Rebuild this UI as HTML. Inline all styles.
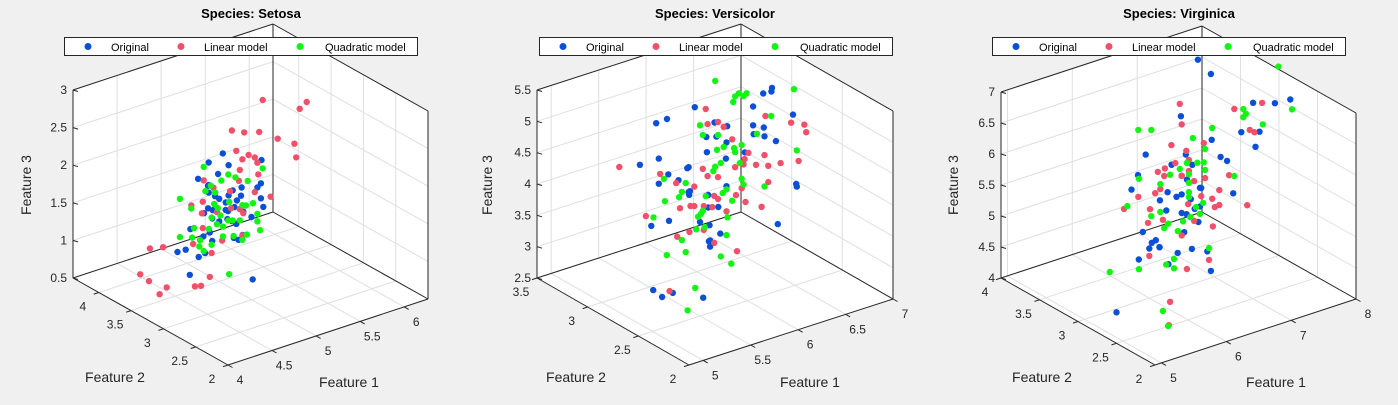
<!DOCTYPE html>
<html><head><meta charset="utf-8"><style>
html,body{margin:0;padding:0;background:#f0f0f0;}
svg{display:block;font-family:"Liberation Sans",Arial,sans-serif;}
</style></head><body>
<svg id="fig" width="1398" height="405" viewBox="0 0 1398 405" xmlns="http://www.w3.org/2000/svg">
<rect x="0" y="0" width="1398" height="405" fill="#f0f0f0"/>
</svg>
<script>
// ---------- Setosa ----------
const setosaOrigF1=[5.1,4.9,4.7,4.6,5.0,5.4,4.6,5.0,4.4,4.9,5.4,4.8,4.8,4.3,5.8,5.7,5.4,5.1,5.7,5.1,5.4,5.1,4.6,5.1,4.8,5.0,5.0,5.2,5.2,4.7,4.8,5.4,5.2,5.5,4.9,5.0,5.5,4.9,4.4,5.1,5.0,4.5,4.4,5.0,5.1,4.8,5.1,4.6,5.3,5.0];
const setosaOrigF2=[3.5,3.0,3.2,3.1,3.6,3.9,3.4,3.4,2.9,3.1,3.7,3.4,3.0,3.0,4.0,4.4,3.9,3.5,3.8,3.8,3.4,3.7,3.6,3.3,3.4,3.0,3.4,3.5,3.4,3.2,3.1,3.4,4.1,4.2,3.1,3.2,3.5,3.6,3.0,3.4,3.5,2.3,3.2,3.5,3.8,3.0,3.8,3.2,3.7,3.3];
const setosaOrigF3=[1.4,1.4,1.3,1.5,1.4,1.7,1.4,1.5,1.4,1.5,1.5,1.6,1.4,1.1,1.2,1.5,1.3,1.4,1.7,1.5,1.7,1.5,1.0,1.7,1.9,1.6,1.6,1.5,1.4,1.6,1.6,1.5,1.5,1.4,1.5,1.2,1.3,1.4,1.3,1.5,1.3,1.3,1.3,1.6,1.9,1.4,1.6,1.4,1.5,1.4];
const setosaLinF1=[5.42,5.84,5.92,5.07,5.21,5.38,5.59,5.78,5.80,5.12,5.26,5.33,5.19,5.36,5.16,5.37,5.15,4.75,5.05,4.86,5.33,5.51,4.74,4.61,4.90,4.73,5.20,5.06,5.16,4.74,4.96,5.19,4.63,4.84,4.14,4.29,4.03,4.13,4.25,4.33,4.65,4.72,4.82];
const setosaLinF3=[2.80,2.52,2.58,2.53,2.45,2.39,2.22,2.08,1.89,2.24,2.13,2.07,2.10,1.99,1.97,1.83,1.83,1.99,1.73,1.85,1.61,1.48,1.71,1.71,1.51,1.56,1.38,1.50,1.45,1.36,1.11,1.09,1.19,0.99,1.32,1.28,1.02,0.89,0.67,0.73,0.62,0.60,0.68];
const setosaQuadF1=[4.75,5.03,5.11,4.95,5.25,5.42,4.83,4.88,4.77,4.48,5.04,4.87,4.61,5.31,5.19,5.23,5.36,4.84,4.94,5.03,5.08,5.16,5.36,4.90,4.97,4.64,4.81,5.39,4.48,4.62,4.71,4.97,5.09,5.24,5.19,4.84,4.70,4.75,5.04,4.91];
const setosaQuadF3=[2.17,1.96,1.89,1.91,1.79,1.89,1.89,1.78,1.84,1.85,1.59,1.63,1.67,1.47,1.49,1.47,1.31,1.46,1.45,1.35,1.33,1.30,1.21,1.35,1.29,1.40,1.32,1.08,1.34,1.28,1.21,1.16,1.12,1.08,1.03,1.10,1.13,1.05,0.63,1.56];
const setosaModelF2=3.4;
// ---------- Versicolor ----------
const versiOrigF1=[7.0,6.4,6.9,5.5,6.5,5.7,6.3,4.9,6.6,5.2,5.0,5.9,6.0,6.1,5.6,6.7,5.6,5.8,6.2,5.6,5.9,6.1,6.3,6.1,6.4,6.6,6.8,6.7,6.0,5.7,5.5,5.5,5.8,6.0,5.4,6.0,6.7,6.3,5.6,5.5,5.5,6.1,5.8,5.0,5.6,5.7,5.7,6.2,5.1,5.7];
const versiOrigF2=[3.2,3.2,3.1,2.3,2.8,2.8,3.3,2.4,2.9,2.7,2.0,3.0,2.2,2.9,2.9,3.1,3.0,2.7,2.2,2.5,3.2,2.8,2.5,2.8,2.9,3.0,2.8,3.0,2.9,2.6,2.4,2.4,2.7,2.7,3.0,3.4,3.1,2.3,3.0,2.5,2.6,3.0,2.6,2.3,2.7,3.0,2.9,2.9,2.5,2.8];
const versiOrigF3=[4.7,4.5,4.9,4.0,4.6,4.5,4.7,3.3,4.6,3.9,3.5,4.2,4.0,4.7,3.6,4.4,4.5,4.1,4.5,3.9,4.8,4.0,4.9,4.7,4.3,4.4,4.8,5.0,4.5,3.5,3.8,3.7,3.9,5.1,4.5,4.5,4.7,4.4,4.1,4.0,4.4,4.6,4.0,3.3,4.2,4.2,4.2,4.3,3.0,4.1];
const versiLinF1=[5.88,6.01,5.90,6.07,6.16,6.51,6.78,6.92,6.94,6.33,6.50,6.29,6.28,6.41,6.54,6.67,6.86,4.97,5.40,5.85,5.90,6.01,6.19,5.57,5.76,6.26,6.54,6.20,5.97,6.01,6.30,6.47,5.61,5.72,5.76,5.86,5.95,6.10,5.25,5.86,5.58,5.71,5.97,6.21,5.50];
const versiLinF3=[5.34,5.07,5.09,4.96,4.72,4.92,4.68,4.58,4.45,4.42,4.30,4.34,4.26,4.19,4.11,4.09,4.03,4.86,4.54,4.40,4.26,4.19,4.26,4.31,4.16,3.89,3.85,3.81,3.91,3.84,3.65,3.49,3.89,3.87,3.85,3.80,3.74,3.60,3.94,3.42,3.45,3.46,3.16,2.91,2.62];
const versiQuadF1=[5.98,6.19,6.23,6.31,6.28,6.17,6.81,6.57,5.82,5.85,6.01,6.07,6.00,6.18,6.19,6.26,6.42,6.84,6.24,6.04,5.98,5.96,5.44,5.67,6.26,6.28,6.50,5.63,5.60,5.45,6.10,6.06,5.88,6.16,5.85,5.83,5.80,6.11,5.33,5.78,5.87,5.63,6.10,5.67,5.47,6.04,6.15,5.77,5.69];
const versiQuadF3=[5.74,5.39,5.42,5.38,5.35,5.31,5.20,4.89,5.11,4.94,4.86,4.64,4.63,4.57,4.50,4.58,4.68,4.21,4.30,4.40,4.37,4.31,4.44,4.26,4.04,3.94,3.80,4.14,4.07,4.08,3.95,3.91,3.95,3.74,3.73,3.69,3.66,3.50,3.88,3.47,3.46,3.37,3.22,3.16,3.21,2.91,2.74,2.54,2.22];
const versiModelF2=2.8;
// ---------- Virginica ----------
const virgOrigF1=[6.3,5.8,7.1,6.3,6.5,7.6,4.9,7.3,6.7,7.2,6.5,6.4,6.8,5.7,5.8,6.4,6.5,7.7,7.7,6.0,6.9,5.6,7.7,6.3,6.7,7.2,6.2,6.1,6.4,7.2,7.4,7.9,6.4,6.3,6.1,7.7,6.3,6.4,6.0,6.9,6.7,6.9,5.8,6.8,6.7,6.7,6.3,6.5,6.2,5.9];
const virgOrigF2=[3.3,2.7,3.0,2.9,3.0,3.0,2.5,2.9,2.5,3.6,3.2,2.7,3.0,2.5,2.8,3.2,3.0,3.8,2.6,2.2,3.2,2.8,2.8,2.7,3.3,3.2,2.8,3.0,2.8,3.0,2.8,3.8,2.8,2.8,2.6,3.0,3.4,3.1,3.0,3.1,3.1,3.1,2.7,3.2,3.3,3.0,2.5,3.0,3.4,3.0];
const virgOrigF3=[6.0,5.1,5.9,5.6,5.8,6.6,4.5,6.3,5.8,6.1,5.1,5.3,5.5,5.0,5.1,5.3,5.5,6.7,6.9,5.0,5.7,4.9,6.7,4.9,5.7,6.0,4.8,4.9,5.6,5.8,6.1,6.4,5.6,5.1,5.6,6.1,5.6,5.5,4.8,5.4,5.6,5.1,5.1,5.9,5.7,5.2,5.0,5.2,5.4,5.1];
const virgLinF1=[6.47,6.50,6.34,6.57,6.84,7.31,7.74,7.55,7.62,6.40,6.61,6.24,6.13,6.23,6.50,6.61,6.69,6.86,7.23,6.17,6.09,5.83,6.80,7.08,6.97,7.01,7.08,7.51,5.61,6.01,6.60,5.98,6.21,6.50,6.69,6.98,6.00,6.92,6.58,6.32,6.30];
const virgLinF3=[6.97,6.63,6.35,6.18,6.21,6.60,6.55,6.18,6.12,6.04,6.02,6.01,5.99,5.89,5.80,5.84,5.65,5.64,5.56,5.70,5.66,5.69,5.37,5.37,5.27,5.12,5.13,4.98,5.57,5.43,5.31,5.22,5.19,4.84,5.01,4.82,4.68,4.30,4.27,3.83,3.46];
const virgQuadF1=[7.99,8.20,7.45,7.49,7.45,7.75,6.97,5.83,6.03,6.67,6.86,6.58,6.74,6.84,6.86,6.47,6.61,6.32,7.31,5.84,6.61,6.17,6.61,6.61,5.66,6.83,6.72,6.17,6.03,6.78,6.63,6.52,6.29,6.23,6.44,6.92,6.38,6.26,6.38,5.84,5.39,6.21,6.29];
const virgQuadF3=[7.05,6.29,6.55,6.46,6.42,6.20,6.41,6.77,6.70,6.35,6.11,5.98,5.93,5.90,5.77,5.92,5.79,5.88,5.52,5.98,5.65,5.78,5.50,5.42,5.60,5.25,5.22,5.33,5.31,5.09,5.09,5.06,5.10,5.05,4.93,4.49,4.50,4.45,4.35,4.52,4.63,3.72,3.45];
const virgModelF2=3.0;

const seriesNames=["Original","Linear model","Quadratic model"];
const seriesColors=["#0a4fd6","#f0506a","#12f512"];

const panels=[
 {title:"Species: Setosa", slug:"setosa", O:[228,365], ex:[200,-66], ey:[-155,-87], H:188,
  r1:[4,6.27], r2:[2,4.4], r3:[0.5,3],
  t1:[4,4.5,5,5.5,6], t2:[2,2.5,3,3.5,4], t3:[0.5,1,1.5,2,2.5,3],
  legend:[64,37], cx:251,
  orig:[setosaOrigF1,setosaOrigF2,setosaOrigF3], lin:[setosaLinF1,setosaLinF3], quad:[setosaQuadF1,setosaQuadF3], mf2:setosaModelF2},
 {title:"Species: Versicolor", slug:"versicolor", O:[689,365], ex:[204,-66], ey:[-152,-87], H:188,
  r1:[4.85,7.0], r2:[2,3.5], r3:[2.5,5.5],
  t1:[5,5.5,6,6.5,7], t2:[2,2.5,3,3.5], t3:[2.5,3,3.5,4,4.5,5,5.5],
  legend:[539,37], cx:715,
  orig:[versiOrigF1,versiOrigF2,versiOrigF3], lin:[versiLinF1,versiLinF3], quad:[versiQuadF1,versiQuadF3], mf2:versiModelF2},
 {title:"Species: Virginica", slug:"virginica", O:[1155,365], ex:[201,-66], ey:[-154,-87], H:186,
  r1:[4.9,8.0], r2:[2,4], r3:[4,7],
  t1:[5,6,7,8], t2:[2,2.5,3,3.5,4], t3:[4,4.5,5,5.5,6,6.5,7],
  legend:[992,37], cx:1179,
  orig:[virgOrigF1,virgOrigF2,virgOrigF3], lin:[virgLinF1,virgLinF3], quad:[virgQuadF1,virgQuadF3], mf2:virgModelF2}
];

const NS="http://www.w3.org/2000/svg";
const svg=document.getElementById("fig");
function mk(tag,attrs,parent,text){
  const e=document.createElementNS(NS,tag);
  for(const k in attrs) e.setAttribute(k,attrs[k]);
  if(text!==undefined) e.textContent=text;
  parent.appendChild(e);
  return e;
}
function fmt(v){return String(v);}

panels.forEach(p=>{
  const g=mk("g",{},svg);
  
  
  // projection: data -> screen
  const proj=(a,b,c)=>{
    const u=(a-p.r1[0])/(p.r1[1]-p.r1[0]);
    const v=(b-p.r2[0])/(p.r2[1]-p.r2[0]);
    const w=(c-p.r3[0])/(p.r3[1]-p.r3[0]);
    return [p.O[0]+u*p.ex[0]+v*p.ey[0], p.O[1]+u*p.ex[1]+v*p.ey[1]-w*p.H];
  };
  const [a0,a1]=p.r1,[b0,b1]=p.r2,[c0,c1]=p.r3;
  const P=(a,b,c)=>proj(a,b,c);
  const pts=arr=>arr.map(q=>q[0].toFixed(1)+","+q[1].toFixed(1)).join(" ");
  // white box fill
  const hex=[P(a0,b1,c0),P(a0,b1,c1),P(a1,b1,c1),P(a1,b0,c1),P(a1,b0,c0),P(a0,b0,c0)];
  const bg=mk("polygon",{points:pts(hex),fill:"#ffffff",stroke:"none"},g);
  
  
  // grid
  const grid=mk("g",{stroke:"#dfdfdf","stroke-width":"1",fill:"none"},g);
  
  
  const line=(A,B,parent,attrs)=>mk("line",Object.assign({x1:A[0].toFixed(1),y1:A[1].toFixed(1),x2:B[0].toFixed(1),y2:B[1].toFixed(1)},attrs||{}),parent);
  p.t1.forEach(t=>{ line(P(t,b1,c0),P(t,b1,c1),grid); line(P(t,b0,c0),P(t,b1,c0),grid); });
  p.t2.forEach(t=>{ line(P(a1,t,c0),P(a1,t,c1),grid); line(P(a0,t,c0),P(a1,t,c0),grid); });
  p.t3.forEach(t=>{ line(P(a0,b1,t),P(a1,b1,t),grid); line(P(a1,b1,t),P(a1,b0,t),grid); });
  // box edges
  const box=mk("g",{stroke:"#262626","stroke-width":"1",fill:"none"},g);
  
  
  [[P(a0,b1,c0),P(a0,b1,c1)],[P(a0,b1,c1),P(a1,b1,c1)],[P(a1,b1,c0),P(a1,b1,c1)],[P(a1,b1,c1),P(a1,b0,c1)],
   [P(a1,b0,c0),P(a1,b0,c1)],[P(a0,b1,c0),P(a0,b0,c0)],[P(a0,b0,c0),P(a1,b0,c0)],[P(a0,b1,c0),P(a1,b1,c0)],[P(a1,b1,c0),P(a1,b0,c0)]]
   .forEach(s=>line(s[0],s[1],box));
  // ticks & labels
  const tl=mk("g",{fill:"#262626","font-size":"12"},g);
  
  
  p.t3.forEach(t=>{
    const q=P(a0,b1,t);
    line(q,[q[0]+5,q[1]+1.5],box);
    const tx=mk("text",{x:(q[0]-6).toFixed(1),y:(q[1]+4).toFixed(1),"text-anchor":"end"},tl,fmt(t));
    
    
  });
  p.t2.forEach(t=>{
    const q=P(a0,t,c0);
    line(q,[q[0]-5,q[1]+1.6],box);
    const tx=mk("text",{x:(q[0]-16).toFixed(1),y:(q[1]+18).toFixed(1),"text-anchor":"middle"},tl,fmt(t));
    
    
  });
  p.t1.forEach(t=>{
    const q=P(t,b0,c0);
    line(q,[q[0]+4.5,q[1]+2.5],box);
    const tx=mk("text",{x:(q[0]+12).toFixed(1),y:(q[1]+19).toFixed(1),"text-anchor":"middle"},tl,fmt(t));
    
    
  });
  // axis labels
  const O=p.O;
  const xl=mk("text",{x:O[0]+121,y:O[1]+22,"font-size":"14",fill:"#262626","text-anchor":"middle"},g,"Feature 1");
  
  
  const yl=mk("text",{x:O[0]-113,y:O[1]+17,"font-size":"14",fill:"#262626","text-anchor":"middle"},g,"Feature 2");
  
  
  const zx=O[0]-155-42, zy=O[1]-180;
  const zl=mk("text",{x:zx,y:zy,"font-size":"14",fill:"#262626","text-anchor":"middle",transform:"rotate(-90 "+zx+" "+zy+")"},g,"Feature 3");
  
  
  // points
  const dot=(x,y,color,parent,name)=>{
    const c=mk("circle",{cx:x.toFixed(1),cy:y.toFixed(1),r:"3.2",fill:color},parent);
    
    
  };
  const gO=mk("g",{},g);
  
  
  p.orig[0].forEach((v,i)=>{const q=P(v,p.orig[1][i],p.orig[2][i]); dot(q[0],q[1],seriesColors[0],gO,'original-point');});
  const gL=mk("g",{},g);
  
  
  p.lin[0].forEach((v,i)=>{const q=P(v,p.mf2,p.lin[1][i]); dot(q[0],q[1],seriesColors[1],gL,'linear-model-point');});
  const gQ=mk("g",{},g);
  
  
  p.quad[0].forEach((v,i)=>{const q=P(v,p.mf2,p.quad[1][i]); dot(q[0],q[1],seriesColors[2],gQ,'quadratic-model-point');});
  // title
  const tt=mk("text",{x:p.cx,y:18,"font-size":"13","font-weight":"bold",fill:"#000","text-anchor":"middle"},g,p.title);
  
  
  // legend
  const lg=mk("g",{},g);
  
  
  const L=p.legend;
  mk("rect",{x:L[0]+0.5,y:L[1]+0.5,width:353,height:18,fill:"#fff",stroke:"#262626","stroke-width":"1"},lg);
  const offs=[[24,47],[117,140],[236,261]];
  seriesNames.forEach((n,i)=>{
    const e=mk("g",{},lg);
    
    
    mk("circle",{cx:L[0]+offs[i][0],cy:L[1]+9.5,r:"3.5",fill:seriesColors[i]},e);
    mk("text",{x:L[0]+offs[i][1],y:L[1]+14,"font-size":"11",fill:"#000"},e,n);
  });
});
</script>
</body></html>
